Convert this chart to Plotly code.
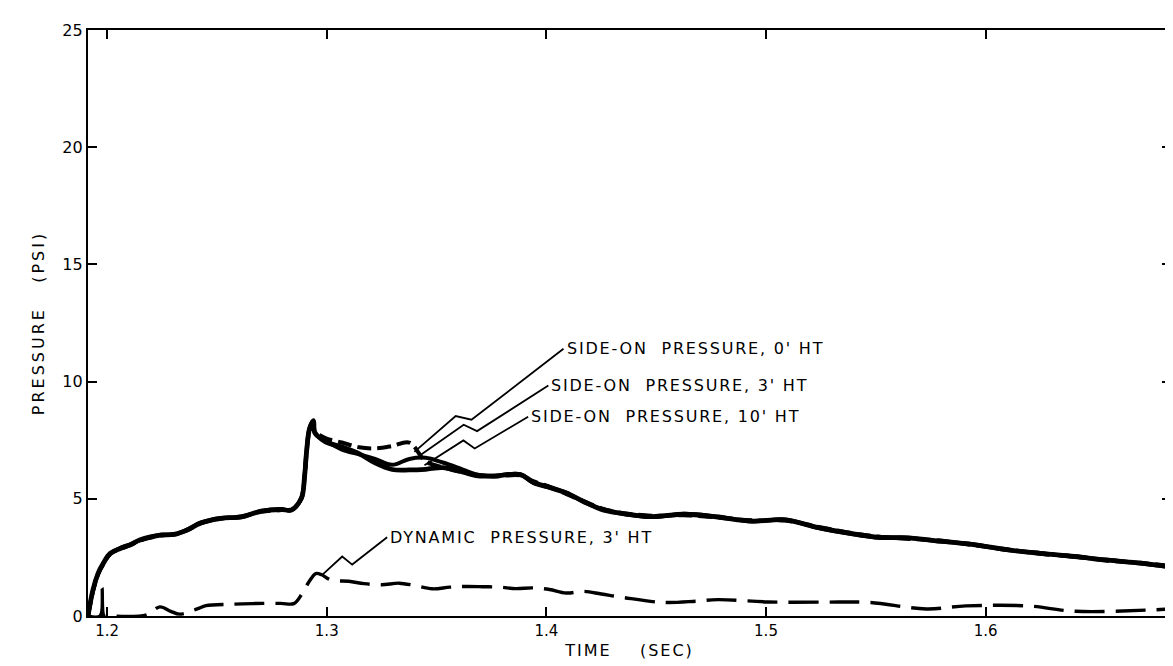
import plotly.graph_objects as go

# ---------------- data ----------------
t_side = [1.1913, 1.1936, 1.1959, 1.1982, 1.2014, 1.2060, 1.2106, 1.2151, 1.2243, 1.2303,
          1.2367, 1.2427, 1.2518, 1.2610, 1.2702, 1.2794, 1.2839, 1.2885, 1.2899, 1.2908,
          1.2922, 1.2940, 1.2945, 1.2991, 1.3069, 1.3147, 1.3220, 1.3298, 1.3376, 1.3450,
          1.3528, 1.3606, 1.3679, 1.3757, 1.3881, 1.3940, 1.4018, 1.4092, 1.4170, 1.4248,
          1.4321, 1.4477, 1.4628, 1.4780, 1.4936, 1.5087, 1.5239, 1.5394, 1.5514, 1.5638,
          1.5789, 1.5945, 1.6096, 1.6248, 1.6404, 1.6555, 1.6706, 1.6844]

p_side_0ft = [0.00, 1.13, 1.82, 2.24, 2.67, 2.88, 3.04, 3.25, 3.45, 3.48,
              3.68, 3.97, 4.17, 4.23, 4.47, 4.54, 4.53, 5.04, 5.95, 6.99,
              7.99, 8.29, 7.85, 7.45, 7.21, 6.93, 6.53, 6.25, 6.23, 6.26,
              6.33, 6.18, 5.99, 5.97, 6.03, 5.71, 5.48, 5.24, 4.88, 4.56,
              4.41, 4.24, 4.34, 4.22, 4.05, 4.10, 3.77, 3.51, 3.36, 3.33,
              3.20, 3.04, 2.83, 2.67, 2.54, 2.38, 2.26, 2.10]

p_side_3ft = [0.00, 1.05, 1.78, 2.20, 2.64, 2.86, 3.02, 3.22, 3.43, 3.50,
              3.66, 3.95, 4.15, 4.25, 4.45, 4.52, 4.55, 5.00, 5.90, 6.90,
              7.90, 8.20, 7.90, 7.60, 7.40, 7.20, 7.15, 7.25, 7.40, 6.60,
              6.35, 6.15, 6.02, 5.95, 6.00, 5.75, 5.50, 5.20, 4.90, 4.60,
              4.43, 4.28, 4.30, 4.20, 4.08, 4.07, 3.80, 3.53, 3.38, 3.30,
              3.22, 3.02, 2.85, 2.65, 2.55, 2.36, 2.27, 2.12]

p_side_10ft = [0.00, 1.10, 1.80, 2.22, 2.66, 2.90, 3.06, 3.24, 3.47, 3.46,
               3.70, 3.99, 4.18, 4.21, 4.48, 4.56, 4.50, 5.06, 6.00, 7.05,
               8.05, 8.35, 7.80, 7.50, 7.10, 6.90, 6.70, 6.45, 6.70, 6.75,
               6.55, 6.30, 6.05, 5.98, 6.05, 5.68, 5.46, 5.26, 4.86, 4.58,
               4.40, 4.22, 4.36, 4.24, 4.03, 4.12, 3.75, 3.49, 3.34, 3.35,
               3.18, 3.06, 2.81, 2.69, 2.52, 2.40, 2.24, 2.08]

t_dyn = [1.1913, 1.1968, 1.1977, 1.1986, 1.2000, 1.2180, 1.2240, 1.2290, 1.2330, 1.2410,
         1.2450, 1.2560, 1.2660, 1.2790, 1.2850, 1.2885, 1.2920, 1.2950, 1.2977, 1.3020,
         1.3100, 1.3170, 1.3250, 1.3330, 1.3400, 1.3480, 1.3560, 1.3630, 1.3710, 1.3790,
         1.3860, 1.3940, 1.4014, 1.4090, 1.4170, 1.4250, 1.4350, 1.4530, 1.4680, 1.4780,
         1.5010, 1.5260, 1.5470, 1.5730, 1.5910, 1.6190, 1.6410, 1.6730, 1.6844]

p_dyn_3ft = [0.00, 0.00, 1.20, 0.00, 0.00, 0.05, 0.39, 0.20, 0.08, 0.30,
             0.44, 0.50, 0.53, 0.54, 0.53, 0.91, 1.47, 1.81, 1.76, 1.53,
             1.48, 1.38, 1.33, 1.40, 1.30, 1.16, 1.23, 1.26, 1.25, 1.23,
             1.17, 1.20, 1.13, 0.98, 1.05, 0.94, 0.79, 0.58, 0.63, 0.70,
             0.60, 0.59, 0.58, 0.30, 0.43, 0.43, 0.20, 0.25, 0.30]

x_ticks = [1.2, 1.3, 1.4, 1.5, 1.6]
x_ticktext = ["1.2", "1.3", "1.4", "1.5", "1.6"]
y_ticks = [0, 5, 10, 15, 20, 25]
y_ticktext = ["0", "5", "10", "15", "20", "25"]

X_RANGE = [1.1913, 1.6844]
Y_RANGE = [0, 25]

# labels: (text, text-anchor t, text-anchor p, curve point t, curve point p, zigzag fraction)
labels = [
    ("SIDE-ON  PRESSURE, 0' HT", 1.4078, 11.4, 1.3399, 7.00, 0.30),
    ("SIDE-ON  PRESSURE, 3' HT", 1.4009, 9.83, 1.3427, 6.87, 0.36),
    ("SIDE-ON  PRESSURE, 10' HT", 1.3917, 8.50, 1.3445, 6.43, 0.40),
    ("DYNAMIC  PRESSURE, 3' HT", 1.3275, 3.36, 1.2977, 1.73, 0.36),
]

# ---------------- figure ----------------
ML, MR, MT, MB = 80, 10, 22, 58
W, H = 1173, 666
px_x = (W - ML - MR) / (X_RANGE[1] - X_RANGE[0])
px_y = (H - MT - MB) / (Y_RANGE[1] - Y_RANGE[0])

FONT = "DejaVu Sans"


def spaced(s, px):
    return f'<span style="letter-spacing:{px}px">{s}</span>'


fig = go.Figure()

fig.add_trace(go.Scatter(x=t_dyn, y=p_dyn_3ft, mode="lines", name="Dynamic pressure, 3' HT",
                         line=dict(color="black", width=3.4, dash="30px,11px"),
                         line_shape="spline"))
fig.add_trace(go.Scatter(x=t_side, y=p_side_10ft, mode="lines", name="Side-on pressure, 10' HT",
                         line=dict(color="black", width=4), line_shape="spline"))
fig.add_trace(go.Scatter(x=t_side, y=p_side_3ft, mode="lines", name="Side-on pressure, 3' HT",
                         line=dict(color="black", width=4, dash="14px,6px"), line_shape="spline"))
fig.add_trace(go.Scatter(x=t_side, y=p_side_0ft, mode="lines", name="Side-on pressure, 0' HT",
                         line=dict(color="black", width=4.8), line_shape="spline"))

shapes = []
annotations = []
for text, tx, ty, cx, cy, f in labels:
    # leader line with a small zig-zag break, computed in pixel space
    dx = (tx - cx) * px_x
    dy = (ty - cy) * px_y
    L = (dx * dx + dy * dy) ** 0.5
    nx, ny = -dy / L, dx / L  # unit normal (pixels)
    mx, my = cx + (tx - cx) * f, cy + (ty - cy) * f
    m2x, m2y = cx + (tx - cx) * (f + 0.06), cy + (ty - cy) * (f + 0.06)
    a = (mx + nx * 6 / px_x, my + ny * 6 / px_y)
    b = (m2x - nx * 6 / px_x, m2y - ny * 6 / px_y)
    path = f"M {cx},{cy} L {a[0]},{a[1]} L {b[0]},{b[1]} L {tx},{ty}"
    shapes.append(dict(type="path", path=path, xref="x", yref="y",
                       line=dict(color="black", width=1.8)))
    annotations.append(dict(x=tx, y=ty, xref="x", yref="y", text=spaced(text, 1.8),
                            showarrow=False, xanchor="left", yanchor="middle", xshift=1,
                            font=dict(family=FONT, size=16, color="black")))

fig.update_layout(
    width=W, height=H,
    margin=dict(l=ML, r=MR, t=MT, b=MB, autoexpand=False),
    paper_bgcolor="white", plot_bgcolor="white",
    showlegend=False,
    font=dict(family=FONT, size=15, color="black"),
    shapes=shapes,
    annotations=annotations,
)
fig.update_xaxes(range=X_RANGE, tickvals=x_ticks, ticktext=x_ticktext,
                 ticks="inside", ticklen=9, tickwidth=2, tickcolor="black",
                 showline=True, linecolor="black", linewidth=2.2, mirror="ticks",
                 showgrid=False, zeroline=False, automargin=False,
                 title=dict(text=spaced("TIME    (SEC)", 2), font=dict(size=16, family=FONT),
                            standoff=6),
                 tickfont=dict(size=15, family=FONT))
fig.update_yaxes(range=Y_RANGE, tickvals=y_ticks, ticktext=y_ticktext,
                 ticks="inside", ticklen=9, tickwidth=2, tickcolor="black",
                 showline=True, linecolor="black", linewidth=2.2, mirror="ticks",
                 showgrid=False, zeroline=False, automargin=False,
                 title=dict(text=spaced("PRESSURE   (PSI)", 3), font=dict(size=16, family=FONT),
                            standoff=14),
                 tickfont=dict(size=16, family=FONT))

fig.write_html("out.html")
